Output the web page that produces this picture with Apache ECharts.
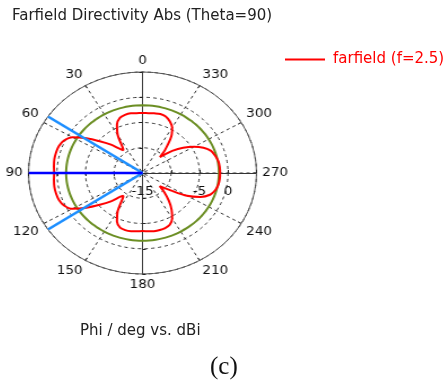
<!DOCTYPE html>
<html>
<head>
<meta charset="utf-8">
<script src="https://cdn.jsdelivr.net/npm/echarts@6/dist/echarts.min.js"></script>
<style>
  html, body { margin: 0; padding: 0; background: #fff; }
  #wrap { position: relative; width: 446px; height: 381px; overflow: hidden; background: #fff; }
  #text, #plot { position: absolute; left: 0; top: 0; width: 446px; height: 381px; }
  /* the polar plot is drawn as an ellipse: stretch it horizontally about its centre */
  #plot { transform-origin: 142.5px 173px; transform: scaleX(1.129); }
</style>
</head>
<body>
<div id="wrap"><div id="text"></div><div id="plot"></div></div>
<script>
// Farfield cut at Theta = 90: azimuth Phi (deg) and directivity (dBi)
const phiDeg = [
  0, 5, 10, 15, 20, 25, 30, 35, 37, 40, 45, 50, 55, 60, 65, 70, 75, 80, 85,
  90, 95, 100, 105, 110, 115, 120, 125, 130, 135, 140, 143, 145, 150, 155, 160, 165, 170, 175,
  180, 185, 190, 195, 200, 205, 210, 215, 220, 225, 229, 232, 235, 240, 245, 250, 255, 260, 265,
  270, 275, 280, 285, 290, 295, 300, 305, 310, 313, 316, 319, 325, 330, 335, 340, 345, 350, 355, 360
];
const directivityDbi = [
  -3.1, -3.1, -3.0, -3.1, -3.4, -4.4, -6.3, -9.0, -9.4, -8.7, -7.0, -5.2, -3.0, -0.8, 0.2, 0.6, 0.7, 0.7, 0.6,
  0.5, 0.6, 0.7, 0.7, 0.6, 0.2, -0.8, -3.0, -5.2, -7.0, -8.8, -9.4, -9.0, -6.3, -4.4, -3.5, -3.3, -3.3, -3.4,
  -3.5, -3.4, -3.3, -3.3, -3.4, -3.7, -4.6, -6.1, -7.8, -9.6, -11.0, -10.2, -9.0, -6.0, -3.8, -2.4, -1.8, -1.5, -1.4,
  -1.4, -1.4, -1.5, -1.8, -2.2, -3.2, -4.6, -6.3, -8.2, -9.6, -10.6, -9.0, -6.2, -4.6, -3.7, -3.1, -2.9, -3.0, -3.1, -3.1
];
// main lobe direction, its 3 dB edges and the 3 dB level
const mainLobeDeg = 90;
const beamEdgesDeg = [56, 124];
const threeDbLevelDbi = -1.6;

// radial scale (dBi) and the labels written along it
const radiusMin = -15;
const radiusMax = 5;
const radiusStep = 5;
const radiusLabels = [-15, -5, 0];
const angleStep = 30;

const seriesName = 'farfield (f=2.5)';
const titleText = 'Farfield Directivity Abs (Theta=90)';
const axisTitle = 'Phi / deg vs. dBi';
const panelTag = '(c)';

const FONT = 'DejaVu Sans';
const CENTER = [142.5, 173];
const RADIUS = 101;

// ---------- polar plot ----------
const plot = echarts.init(document.getElementById('plot'), null, { renderer: 'canvas' });

const dashed = { type: [3, 3], color: '#333', width: 1 };
const solidAxis = { color: '#333', width: 1 };

function polarBox() { return { center: CENTER, radius: RADIUS }; }

// extra polar systems only carry the solid reference lines (right, left, down)
function hiddenAngle(idx, start) {
  return { polarIndex: idx, type: 'value', min: 0, max: 360, startAngle: start, show: false };
}
function solidRadius(idx, withLabels) {
  return {
    polarIndex: idx, type: 'value', min: radiusMin, max: radiusMax, interval: radiusStep,
    axisLine: { show: true, lineStyle: solidAxis },
    axisTick: { show: true, length: 3, lineStyle: { color: '#222' } },
    axisLabel: withLabels ? {
      show: true, margin: -25, color: '#111', fontFamily: FONT, fontSize: 12,
      formatter: v => (radiusLabels.indexOf(v) >= 0 ? String(v) : '')
    } : { show: false },
    splitLine: { show: false }
  };
}

const curve = phiDeg.map((p, i) => [directivityDbi[i], p]);
const levelRing = phiDeg.map(p => [threeDbLevelDbi, p]);
const ray = a => [[radiusMin, a], [radiusMax, a]];

plot.setOption({
  animation: false,
  polar: [polarBox(), polarBox(), polarBox(), polarBox()],
  angleAxis: [
    {
      polarIndex: 0, type: 'value', min: 0, max: 360, interval: angleStep,
      startAngle: 90, clockwise: false,
      axisLine: { show: true, lineStyle: { color: '#555', width: 1 } },
      axisTick: { show: true, inside: true, length: 3, lineStyle: { color: '#222' } },
      axisLabel: {
        margin: 5, color: '#111', fontFamily: FONT, fontSize: 12,
        formatter: v => (v === 360 ? '' : String(v))
      },
      splitLine: { show: true, lineStyle: dashed }
    },
    hiddenAngle(1, 0),
    hiddenAngle(2, 180),
    hiddenAngle(3, 270)
  ],
  radiusAxis: [
    {
      polarIndex: 0, type: 'value', min: radiusMin, max: radiusMax, interval: radiusStep,
      axisLine: { show: true, lineStyle: solidAxis },
      axisTick: { show: true, length: 3, lineStyle: { color: '#222' } },
      axisLabel: { show: false },
      splitLine: { show: true, lineStyle: dashed }
    },
    solidRadius(1, true),
    solidRadius(2, false),
    solidRadius(3, false)
  ],
  series: [
    {
      type: 'line', coordinateSystem: 'polar', polarIndex: 0, data: levelRing,
      showSymbol: false, smooth: true, lineStyle: { color: '#6b8e23', width: 2 }, z: 3
    },
    {
      name: seriesName, type: 'line', coordinateSystem: 'polar', polarIndex: 0, data: curve,
      showSymbol: false, smooth: 0.3, lineStyle: { color: '#ff0000', width: 2 }, z: 4
    },
    {
      type: 'line', coordinateSystem: 'polar', polarIndex: 0, data: ray(beamEdgesDeg[0]),
      showSymbol: false, lineStyle: { color: '#1e8fff', width: 2.5 }, z: 5
    },
    {
      type: 'line', coordinateSystem: 'polar', polarIndex: 0, data: ray(beamEdgesDeg[1]),
      showSymbol: false, lineStyle: { color: '#1e8fff', width: 2.5 }, z: 5
    },
    {
      type: 'line', coordinateSystem: 'polar', polarIndex: 0, data: ray(mainLobeDeg),
      showSymbol: false, lineStyle: { color: '#0000ff', width: 2.5 }, z: 6
    }
  ]
});

// ---------- titles and legend ----------
const text = echarts.init(document.getElementById('text'), null, { renderer: 'canvas' });
const labelFont = { fontFamily: FONT, fontSize: 15, fontWeight: 'normal', color: '#222' };
text.setOption({
  animation: false,
  backgroundColor: '#fff',
  title: [
    { text: titleText, left: 12, top: 9, padding: 0, textStyle: labelFont },
    { text: axisTitle, left: 80, top: 324, padding: 0, textStyle: labelFont },
    { text: panelTag, left: 210, top: 355, padding: 0,
      textStyle: { fontFamily: 'Liberation Serif', fontSize: 25, fontWeight: 'normal', color: '#111' } }
  ],
  legend: {
    left: 285, top: 52, padding: 0, icon: 'rect', itemWidth: 40, itemHeight: 2,
    data: [seriesName],
    textStyle: { color: '#ff0000', fontFamily: FONT, fontSize: 15, padding: [0, 0, 0, 3] }
  },
  grid: { show: false, left: 0, top: 0, width: 1, height: 1 },
  xAxis: { type: 'value', show: false },
  yAxis: { type: 'value', show: false },
  series: [
    { name: seriesName, type: 'line', data: [], itemStyle: { color: '#ff0000' },
      lineStyle: { color: '#ff0000', width: 2 } }
  ]
});
</script>
</body>
</html>
